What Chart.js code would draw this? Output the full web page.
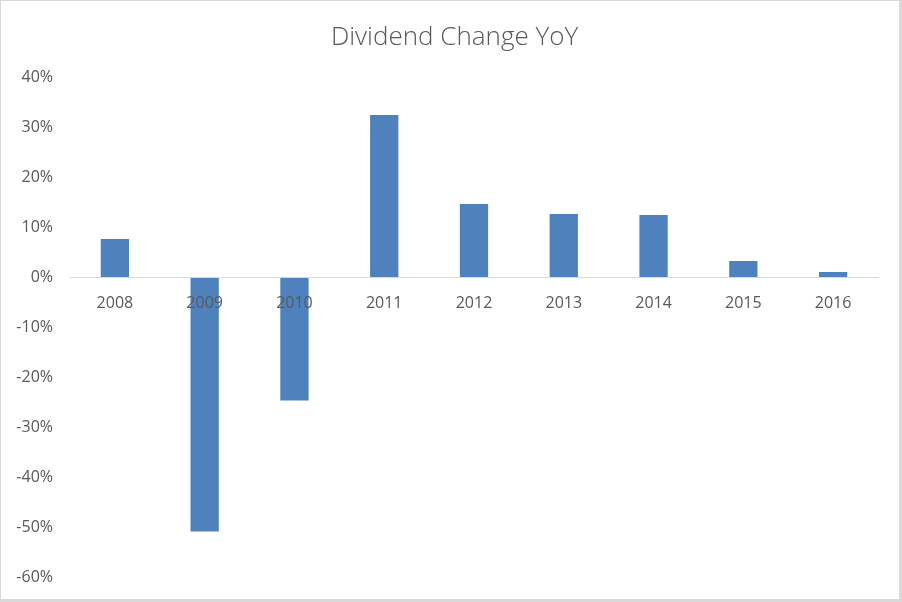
<!DOCTYPE html>
<html>
<head>
<meta charset="utf-8">
<script src="https://cdn.jsdelivr.net/npm/chart.js@4/dist/chart.umd.min.js"></script>
<style>
  html, body { margin: 0; padding: 0; background: #ffffff; }
  #wrap { width: 902px; height: 602px; position: relative; }
</style>
</head>
<body>
<div id="wrap"><canvas id="c" width="902" height="602"></canvas></div>
<script>
const categories = ['2008', '2009', '2010', '2011', '2012', '2013', '2014', '2015', '2016'];
const dividendChange = [0.076, -0.509, -0.247, 0.324, 0.146, 0.126, 0.124, 0.032, 0.010];
const yTicks = [0.4, 0.3, 0.2, 0.1, 0, -0.1, -0.2, -0.3, -0.4, -0.5, -0.6];
const chartTitle = 'Dividend Change YoY';

const FONT = '"Open Sans", "Liberation Sans", sans-serif';
const TEXT = '#595959';

const frame = {
  id: 'frame',
  beforeDraw(chart) {
    const ctx = chart.ctx;
    ctx.save();
    ctx.fillStyle = '#ffffff';
    ctx.fillRect(0, 0, chart.width, chart.height);
    ctx.restore();
  },
  afterDraw(chart) {
    const ctx = chart.ctx;
    const w = chart.width, h = chart.height;
    ctx.save();
    ctx.fillStyle = '#d9d9d9';
    ctx.fillRect(0, 0, w, 1);
    ctx.fillRect(0, 0, 1, h);
    ctx.fillRect(w - 3, 0, 3, h);
    ctx.fillRect(0, h - 3, w, 3);
    ctx.restore();
  }
};

new Chart(document.getElementById('c'), {
  type: 'bar',
  data: {
    labels: categories,
    datasets: [{
      label: 'Dividend Change YoY',
      data: dividendChange,
      backgroundColor: '#4f81bd',
      borderWidth: 0,
      categoryPercentage: 1.0,
      barPercentage: 0.315
    }]
  },
  options: {
    responsive: false,
    animation: false,
    layout: { padding: { left: 7, right: 0, top: 0, bottom: 25 } },
    plugins: {
      legend: { display: false },
      tooltip: { enabled: false },
      title: {
        display: true,
        text: chartTitle,
        color: TEXT,
        font: { family: FONT, size: 26, weight: '300', lineHeight: 1.2 },
        padding: { top: 22, bottom: 23.8 }
      }
    },
    scales: {
      x: {
        position: { y: 0 },
        grid: { display: false, drawTicks: false },
        border: { display: true, color: '#d9d9d9', width: 1, z: 1 },
        ticks: {
          z: 1,
          color: TEXT,
          font: { family: FONT, size: 16 },
          padding: 17,
          maxRotation: 0,
          autoSkip: false
        }
      },
      y: {
        min: -0.6,
        max: 0.4,
        afterFit(scale) {
          scale.width = 63;
          scale.paddingTop = 10;
          scale.paddingBottom = 10;
        },
        afterBuildTicks(scale) { scale.ticks = yTicks.map(v => ({ value: v })); },
        grid: { display: false, drawTicks: false },
        border: { display: false },
        ticks: {
          color: TEXT,
          font: { family: FONT, size: 16 },
          padding: 17,
          callback: (v) => Math.round(v * 100) + '%'
        }
      },
      yRight: {
        position: 'right',
        min: -0.6,
        max: 0.4,
        afterFit(scale) { scale.width = 24; },
        grid: { display: false, drawTicks: false },
        border: { display: false },
        ticks: { display: false }
      }
    }
  },
  plugins: [frame]
});
</script>
</body>
</html>
